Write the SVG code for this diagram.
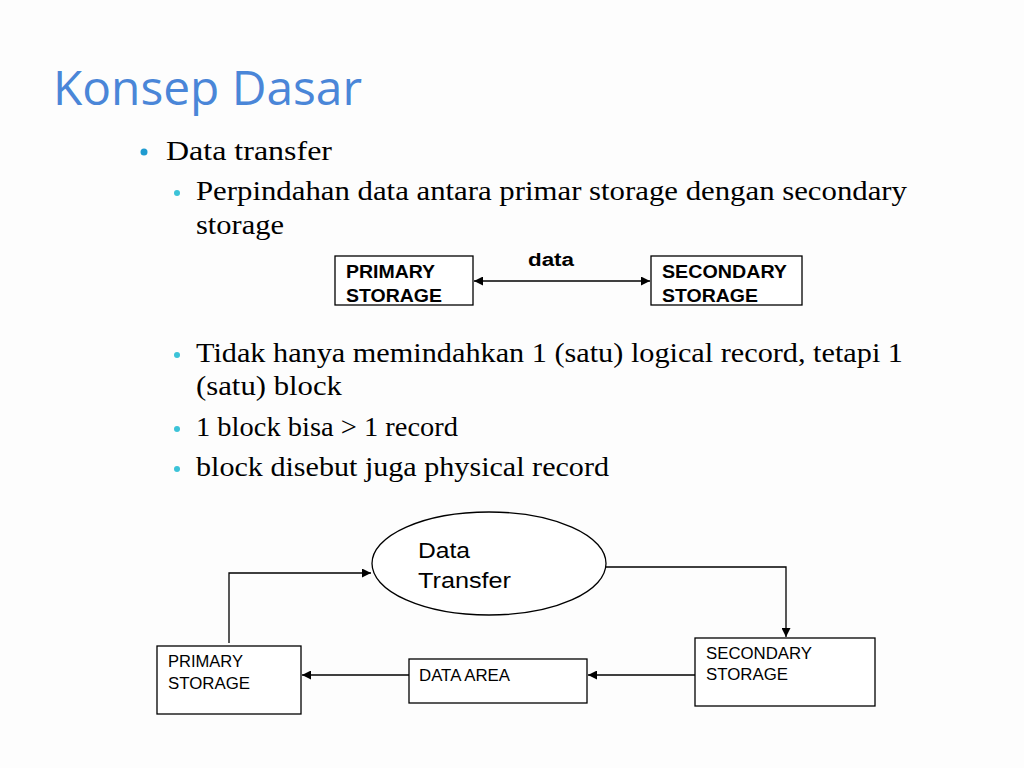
<svg xmlns="http://www.w3.org/2000/svg" width="1024" height="768" viewBox="0 0 1024 768">
<defs>
<marker id="arr" viewBox="0 0 10 10" refX="10" refY="5" markerWidth="9" markerHeight="9" markerUnits="userSpaceOnUse" orient="auto-start-reverse">
<path d="M0,0 L10,5 L0,10 z" fill="#000"/>
</marker>
<style>
.title{font-family:"Open Sans","Liberation Sans",sans-serif;font-size:48px;fill:#4a86d8}
.body{font-family:"Liberation Serif","DejaVu Serif",serif;font-size:28px;fill:#000}
.b1{fill:#1f9bd0}
.b2{fill:#3cc3d8}
.box{fill:#fff;stroke:#000;stroke-width:1.3}
.bold{font-family:"Liberation Sans",Arial,sans-serif;font-size:18px;font-weight:bold;fill:#000}
.lbl{font-family:"Liberation Sans",Arial,sans-serif;font-size:16px;fill:#000}
.big{font-family:"Liberation Sans",Arial,sans-serif;font-size:22px;fill:#000}
.con{fill:none;stroke:#000;stroke-width:1.3}
</style>
</defs>
<rect width="1024" height="768" fill="#fdfdfd"/>
<text class="title" x="53" y="105" textLength="309" lengthAdjust="spacingAndGlyphs">Konsep Dasar</text>
<circle class="b1" cx="144" cy="152" r="3.5"/>
<text class="body" x="166" y="160" textLength="166" lengthAdjust="spacingAndGlyphs">Data transfer</text>
<circle class="b2" cx="177" cy="193" r="3"/>
<text class="body" x="196" y="200" textLength="711" lengthAdjust="spacingAndGlyphs">Perpindahan data antara primar storage dengan secondary</text>
<text class="body" x="196" y="234" textLength="88" lengthAdjust="spacingAndGlyphs">storage</text>
<circle class="b2" cx="177" cy="355" r="3"/>
<text class="body" x="196" y="362" textLength="707" lengthAdjust="spacingAndGlyphs">Tidak hanya memindahkan 1 (satu) logical record, tetapi 1</text>
<text class="body" x="196" y="395" textLength="146" lengthAdjust="spacingAndGlyphs">(satu) block</text>
<circle class="b2" cx="177" cy="429" r="3"/>
<text class="body" x="196" y="436" textLength="262" lengthAdjust="spacingAndGlyphs">1 block bisa &gt; 1 record</text>
<circle class="b2" cx="177" cy="469" r="3"/>
<text class="body" x="196" y="476" textLength="413" lengthAdjust="spacingAndGlyphs">block disebut juga physical record</text>

<g id="top-primary"><rect class="box" x="335" y="256" width="138" height="49"/>
<text class="bold" x="346" y="278" textLength="89" lengthAdjust="spacingAndGlyphs">PRIMARY</text><text class="bold" x="346" y="302" textLength="96" lengthAdjust="spacingAndGlyphs">STORAGE</text></g>
<g id="top-secondary"><rect class="box" x="651" y="256" width="151" height="49"/>
<text class="bold" x="662" y="278" textLength="125" lengthAdjust="spacingAndGlyphs">SECONDARY</text><text class="bold" x="662" y="302" textLength="96" lengthAdjust="spacingAndGlyphs">STORAGE</text></g>

<g id="data-transfer"><ellipse class="box" cx="489" cy="563.5" rx="117" ry="51.5"/>
<text class="big" x="418" y="558" textLength="52" lengthAdjust="spacingAndGlyphs">Data</text><text class="big" x="418" y="588" textLength="93" lengthAdjust="spacingAndGlyphs">Transfer</text></g>
<g id="primary"><rect class="box" x="157" y="646" width="144" height="68"/>
<text class="lbl" x="168" y="667" textLength="75" lengthAdjust="spacingAndGlyphs">PRIMARY</text><text class="lbl" x="168" y="689" textLength="82" lengthAdjust="spacingAndGlyphs">STORAGE</text></g>
<g id="data-area"><rect class="box" x="409" y="659" width="178" height="44"/>
<text class="lbl" x="419" y="681" textLength="91" lengthAdjust="spacingAndGlyphs">DATA AREA</text></g>
<g id="secondary"><rect class="box" x="695" y="638" width="180" height="68"/>
<text class="lbl" x="706" y="659" textLength="106" lengthAdjust="spacingAndGlyphs">SECONDARY</text><text class="lbl" x="706" y="680" textLength="82" lengthAdjust="spacingAndGlyphs">STORAGE</text></g>

<g id="connectors">
<line class="con" x1="474" y1="281" x2="650" y2="281" marker-start="url(#arr)" marker-end="url(#arr)"/>
<text class="bold" x="528" y="266" textLength="46" lengthAdjust="spacingAndGlyphs">data</text>
<polyline class="con" points="229,643 229,573 371,573" marker-end="url(#arr)"/>
<polyline class="con" points="606,567 786,567 786,637" marker-end="url(#arr)"/>
<line class="con" x1="695" y1="675" x2="588" y2="675" marker-end="url(#arr)"/>
<line class="con" x1="409" y1="675" x2="302" y2="675" marker-end="url(#arr)"/>
</g>
</svg>
